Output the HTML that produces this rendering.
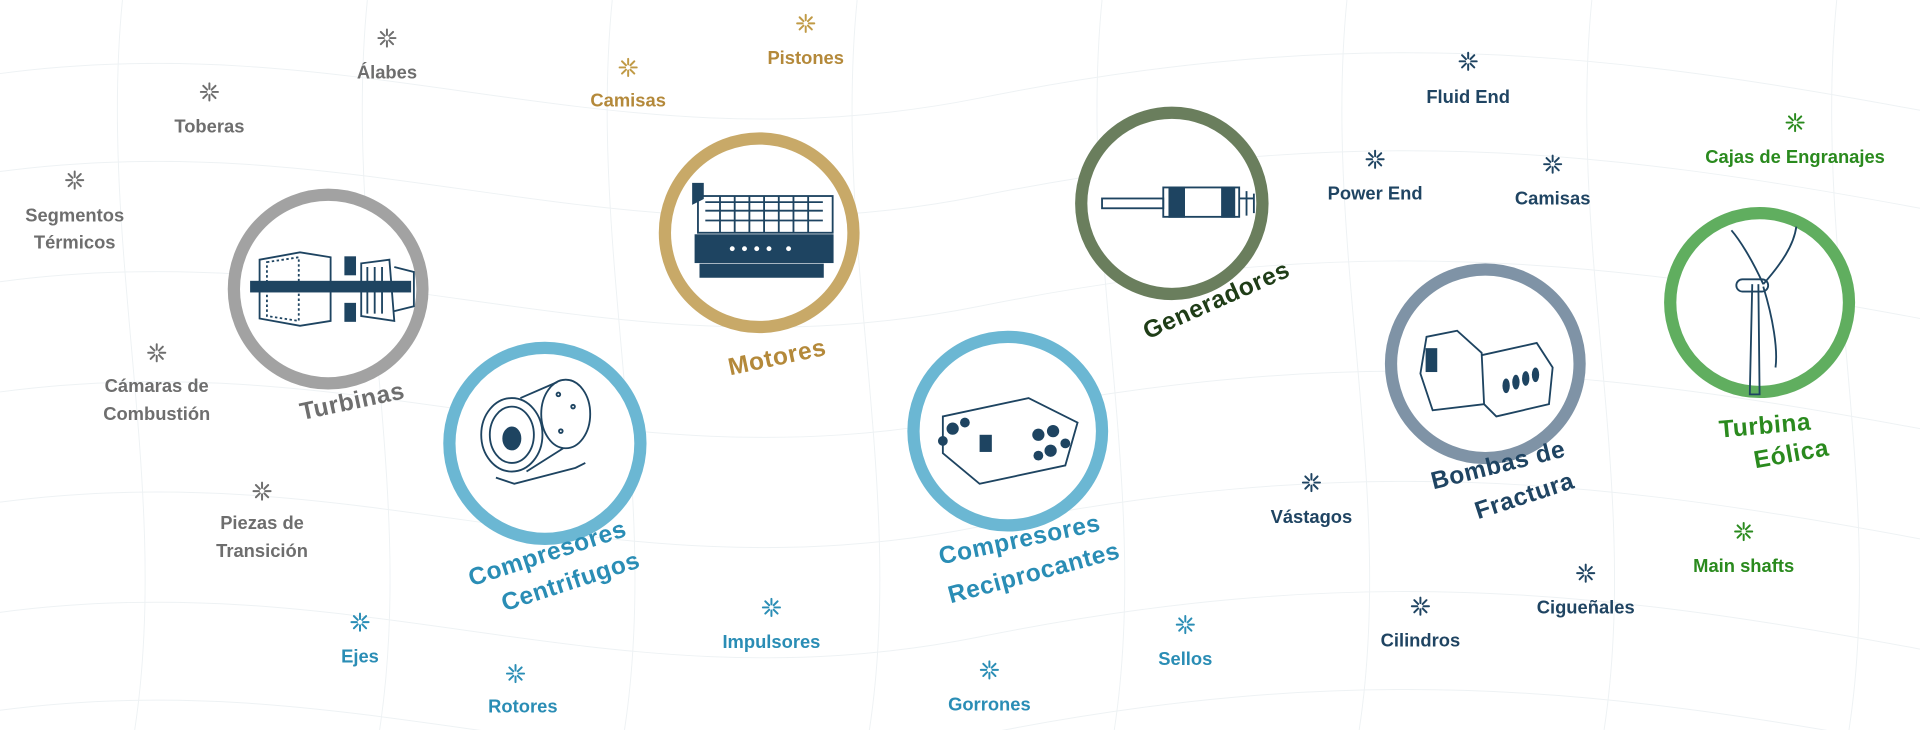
<!DOCTYPE html>
<html><head><meta charset="utf-8"><style>
html,body{margin:0;padding:0;background:#fff;width:1920px;height:730px;overflow:hidden}
svg{display:block}
text{font-family:"Liberation Sans",sans-serif;font-weight:bold}
.g{fill:#6e6e6e}.au{fill:#b4893a}.b{fill:#2a8db5}.n{fill:#1f4462}.gr{fill:#2a8a1e}
.it{font-size:15px;text-anchor:middle}
.lb{font-size:20px;text-anchor:middle;letter-spacing:0.5px}
.ic{fill:none;stroke:#1e4461;stroke-width:1.5}
</style></head><body>
<svg width="1920" height="730" viewBox="0 0 1568 596" xmlns="http://www.w3.org/2000/svg">
<defs>
<g id="ast"><path d="M0,-7V-2.5M0,2.5V7M-7,0H-2.5M2.5,0H7M-5,-5L-1.8,-1.8M1.8,1.8L5,5M-5,5L-1.8,1.8M1.8,-1.8L5,-5" stroke-width="1.6" stroke-linecap="round"/></g>
</defs>
<g stroke="#eef2f4" stroke-width="0.8" fill="none">
<path d="M0,60 C300,20 500,140 800,80 S1300,40 1568,90"/>
<path d="M0,140 C300,100 500,220 800,160 S1300,120 1568,170"/>
<path d="M0,230 C300,190 500,310 800,250 S1300,210 1568,260"/>
<path d="M0,320 C300,280 500,400 800,340 S1300,300 1568,350"/>
<path d="M0,410 C300,370 500,490 800,430 S1300,390 1568,440"/>
<path d="M0,500 C300,460 500,580 800,520 S1300,480 1568,530"/>
<path d="M0,580 C300,540 500,660 800,600 S1300,560 1568,610"/>
<path d="M100,0 C80,200 140,400 110,596"/><path d="M300,0 C280,200 340,400 310,596"/>
<path d="M500,0 C480,200 540,400 510,596"/><path d="M700,0 C680,200 740,400 710,596"/>
<path d="M900,0 C880,200 940,400 910,596"/><path d="M1100,0 C1080,200 1140,400 1110,596"/>
<path d="M1300,0 C1280,200 1340,400 1310,596"/><path d="M1500,0 C1480,200 1540,400 1510,596"/>
</g>
<g fill="#fff" stroke-width="10">
<circle cx="268" cy="236" r="77" stroke="#a2a2a2"/>
<circle cx="620" cy="190" r="77" stroke="#c8a968"/>
<circle cx="445" cy="362" r="78" stroke="#6bb7d3"/>
<circle cx="823" cy="352" r="77" stroke="#6bb7d3"/>
<circle cx="957" cy="166" r="74" stroke="#6a7e5d"/>
<circle cx="1213" cy="297" r="77" stroke="#7f93a6"/>
<circle cx="1437" cy="247" r="73" stroke="#60ae5f"/>
</g>
<g class="ic">
<rect x="205" y="230" width="130" height="8" fill="#1e4461"/>
<path d="M212,212 L245,206 L270,210 L270,262 L245,266 L212,260Z"/>
<path d="M218,214 L244,210 L244,262 L218,258Z" stroke-dasharray="2 2"/>
<rect x="282" y="210" width="8" height="14" fill="#1e4461"/><rect x="282" y="248" width="8" height="14" fill="#1e4461"/>
<path d="M295,215 L318,212 L322,262 L295,258Z"/><path d="M300,218v38M306,218v38M312,218v38"/>
<path d="M322,218 L338,222 L338,250 L322,254"/>
<rect x="570" y="160" width="110" height="30"/>
<path d="M576,165h96M576,172h96M576,180h96M588,160v30M600,160v30M612,160v30M624,160v30M636,160v30M648,160v30M660,160v30"/>
<rect x="568" y="192" width="112" height="22" fill="#1e4461"/>
<rect x="572" y="216" width="100" height="10" fill="#1e4461"/>
<g fill="#fff" stroke="none"><circle cx="598" cy="203" r="2"/><circle cx="608" cy="203" r="2"/><circle cx="618" cy="203" r="2"/><circle cx="628" cy="203" r="2"/><circle cx="644" cy="203" r="2"/></g>
<path d="M566,150v16l8,-4v-12Z" fill="#1e4461"/>
<ellipse cx="418" cy="355" rx="25" ry="30"/><ellipse cx="418" cy="355" rx="18" ry="23"/>
<ellipse cx="418" cy="358" rx="7" ry="9" fill="#1e4461"/>
<ellipse cx="462" cy="338" rx="20" ry="28"/><path d="M425,325 L455,312 M430,385 L460,366 M405,390 L420,395 L470,382 L478,378"/>
<circle cx="456" cy="322" r="1.5"/><circle cx="468" cy="332" r="1.5"/><circle cx="458" cy="352" r="1.5"/>
<rect x="900" y="162" width="50" height="8"/><rect x="950" y="153" width="62" height="24"/>
<rect x="955" y="153" width="12" height="24" fill="#1e4461"/><rect x="998" y="153" width="10" height="24" fill="#1e4461"/>
<path d="M1012,162h12M1018,156v20M1024,158v16"/>
<path d="M770,340 L840,325 L880,345 L870,380 L800,395 L770,370Z"/>
<g fill="#1e4461" stroke="none"><circle cx="778" cy="350" r="5"/><circle cx="788" cy="345" r="4"/><circle cx="770" cy="360" r="4"/><circle cx="848" cy="355" r="5"/><circle cx="860" cy="352" r="5"/><circle cx="858" cy="368" r="5"/><circle cx="870" cy="362" r="4"/><circle cx="848" cy="372" r="4"/><rect x="800" y="355" width="10" height="14"/></g>
<path d="M1165,275 L1190,270 L1210,288 L1212,330 L1170,335 L1160,305Z"/>
<rect x="1165" y="285" width="8" height="18" fill="#1e4461"/>
<path d="M1210,290 L1255,280 L1268,300 L1265,330 L1222,340 L1212,330"/>
<g fill="#1e4461" stroke="none"><ellipse cx="1230" cy="315" rx="3" ry="6"/><ellipse cx="1238" cy="312" rx="3" ry="6"/><ellipse cx="1246" cy="309" rx="3" ry="6"/><ellipse cx="1254" cy="306" rx="3" ry="6"/></g>
<path d="M1431,232 L1429,322 L1437,322 L1436,232" />
<rect x="1418" y="228" width="26" height="10" rx="5"/>
<path d="M1440,232 C1430,210 1420,195 1414,188 M1440,232 C1455,215 1465,200 1467,185 M1440,234 C1448,260 1452,285 1450,300"/>
</g>
<g stroke="#6e6e6e"><use href="#ast" x="316" y="31"/><use href="#ast" x="171" y="75"/><use href="#ast" x="61" y="147"/><use href="#ast" x="128" y="288"/><use href="#ast" x="214" y="401"/></g>
<g stroke="#c09a45"><use href="#ast" x="658" y="19"/><use href="#ast" x="513" y="55"/></g>
<g stroke="#2a8db5"><use href="#ast" x="294" y="508"/><use href="#ast" x="421" y="550"/><use href="#ast" x="630" y="496"/><use href="#ast" x="808" y="547"/><use href="#ast" x="968" y="510"/></g>
<g stroke="#1f4462"><use href="#ast" x="1199" y="50"/><use href="#ast" x="1123" y="130"/><use href="#ast" x="1268" y="134"/><use href="#ast" x="1071" y="394"/><use href="#ast" x="1160" y="495"/><use href="#ast" x="1295" y="468"/></g>
<g stroke="#2a8a1e"><use href="#ast" x="1466" y="100"/><use href="#ast" x="1424" y="434"/></g>
<g class="it">
<text class="g" x="316" y="64">Álabes</text>
<text class="g" x="171" y="108">Toberas</text>
<text class="g" x="61" y="181">Segmentos</text><text class="g" x="61" y="203">Térmicos</text>
<text class="g" x="128" y="320">Cámaras de</text><text class="g" x="128" y="343">Combustión</text>
<text class="g" x="214" y="432">Piezas de</text><text class="g" x="214" y="455">Transición</text>
<text class="au" x="658" y="52">Pistones</text>
<text class="au" x="513" y="87">Camisas</text>
<text class="b" x="294" y="541">Ejes</text>
<text class="b" x="427" y="582">Rotores</text>
<text class="b" x="630" y="529">Impulsores</text>
<text class="b" x="808" y="580">Gorrones</text>
<text class="b" x="968" y="543">Sellos</text>
<text class="n" x="1199" y="84">Fluid End</text>
<text class="n" x="1123" y="163">Power End</text>
<text class="n" x="1268" y="167">Camisas</text>
<text class="n" x="1071" y="427">Vástagos</text>
<text class="n" x="1160" y="528">Cilindros</text>
<text class="n" x="1295" y="501">Cigueñales</text>
<text class="gr" x="1466" y="133">Cajas de Engranajes</text>
<text class="gr" x="1424" y="467">Main shafts</text>
</g>
<g class="lb">
<text class="g" transform="translate(289,334) rotate(-12)">Turbinas</text>
<text class="au" transform="translate(636,298) rotate(-12)">Motores</text>
<text class="b" transform="translate(449,458) rotate(-18)">Compresores</text>
<text class="b" transform="translate(468,481) rotate(-18)">Centrifugos</text>
<text style="fill:#1f3d17" transform="translate(996,251) rotate(-24)">Generadores</text>
<text class="b" transform="translate(834,447) rotate(-12)">Compresores</text>
<text class="b" transform="translate(846,474) rotate(-15)">Reciprocantes</text>
<text class="n" transform="translate(1225,386) rotate(-14)">Bombas de</text>
<text class="n" transform="translate(1247,411) rotate(-18)">Fractura</text>
<text class="gr" transform="translate(1442,354) rotate(-5)">Turbina</text>
<text class="gr" transform="translate(1464,377) rotate(-10)">Eólica</text>
</g>
</svg>
</body></html>
